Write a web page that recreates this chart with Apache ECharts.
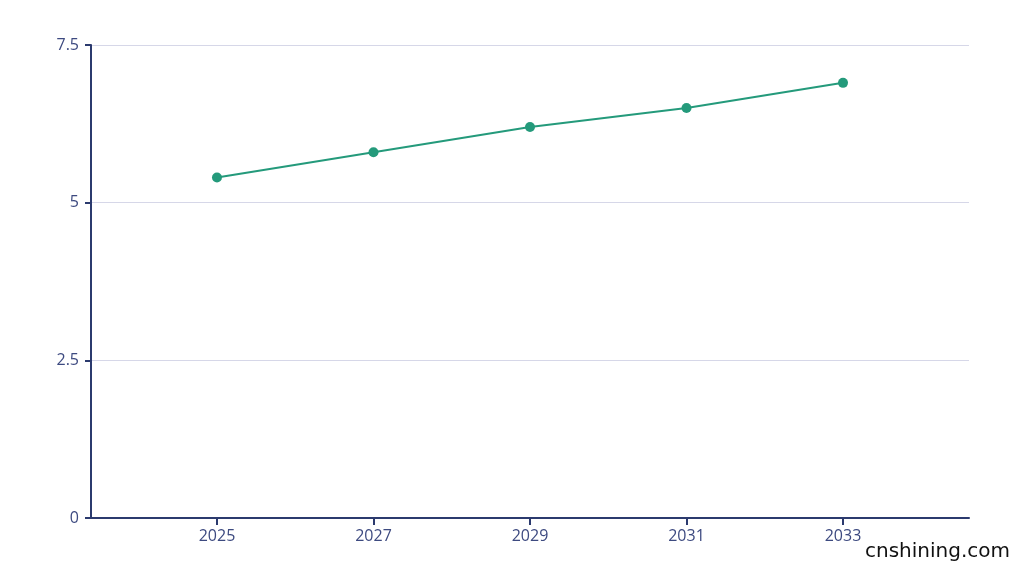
<!DOCTYPE html>
<html>
<head>
<meta charset="utf-8">
<script src="https://cdn.jsdelivr.net/npm/echarts@6/dist/echarts.min.js"></script>
<style>
html,body{margin:0;padding:0;background:#fff;}
#c{width:1024px;height:567px;}
</style>
</head>
<body>
<div id="c"></div>
<script>
const years = [2025, 2027, 2029, 2031, 2033];
const values = [5.4, 5.8, 6.2, 6.5, 6.9];
const xTicks = [2025, 2027, 2029, 2031, 2033];
const yTicks = [0, 2.5, 5, 7.5];

const chart = echarts.init(document.getElementById('c'), null, {renderer: 'canvas'});
const axisColor = '#2b3a6e';
const labelColor = '#3d4a80';
chart.setOption({
  animation: false,
  backgroundColor: '#ffffff',
  grid: {left: 91, right: 55, top: 45, bottom: 49},
  xAxis: {
    type: 'value',
    min: 2023.39,
    max: 2034.61,
    axisLine: {show: true, onZero: false, lineStyle: {color: axisColor, width: 2}},
    axisTick: {show: true, customValues: xTicks, length: 7, lineStyle: {color: axisColor, width: 2}},
    axisLabel: {customValues: xTicks, color: labelColor, fontFamily: 'Open Sans', fontSize: 16, margin: 10, formatter: v => String(v)},
    splitLine: {show: false}
  },
  yAxis: {
    type: 'value',
    min: 0,
    max: 7.5,
    interval: 2.5,
    axisLine: {show: true, lineStyle: {color: axisColor, width: 2}},
    axisTick: {show: true, length: 6, lineStyle: {color: axisColor, width: 2}},
    axisLabel: {color: labelColor, fontFamily: 'Open Sans', fontSize: 16, margin: 12, formatter: v => String(v)},
    splitLine: {show: true, lineStyle: {color: '#d6d7e8', width: 1}}
  },
  series: [{
    type: 'line',
    data: years.map((y, i) => [y, values[i]]),
    symbol: 'circle',
    symbolSize: 10,
    lineStyle: {color: '#249a7b', width: 2},
    itemStyle: {color: '#249a7b'}
  }],
  graphic: [{
    type: 'text',
    right: 14,
    bottom: 5,
    style: {text: 'cnshining.com', fill: '#111111', font: '20px "DejaVu Sans"'}
  }]
});
</script>
</body>
</html>
